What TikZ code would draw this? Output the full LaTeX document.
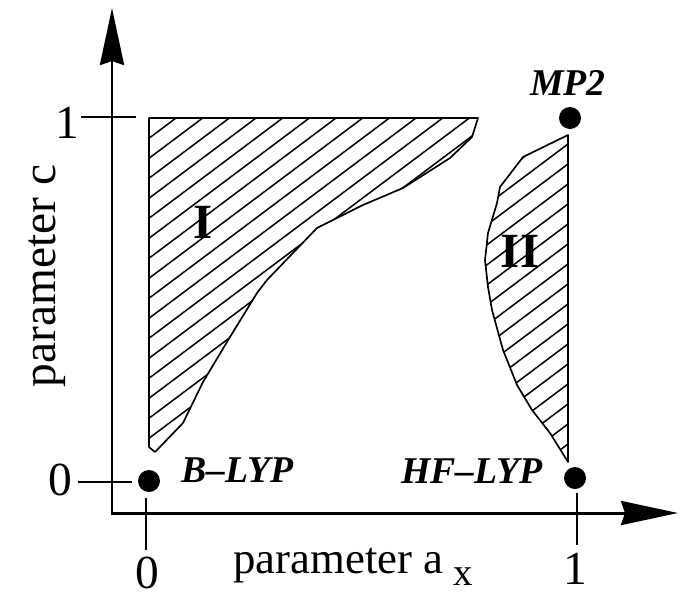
\documentclass[tikz,border=0pt]{standalone}
\usepackage{fontspec}
\setmainfont{Liberation Serif}
\usetikzlibrary{arrows.meta}

\begin{document}
\begin{tikzpicture}[x=0.02cm,y=-0.02cm,
  axisline/.style={line width=1.7pt,
    {Stealth[length=11.4mm,width=4.8mm,inset=0.8mm]}-{Stealth[length=11.4mm,width=4.8mm,inset=0.8mm]}},
  axtick/.style={line width=1.6pt},
  zone/.style={line width=0.95pt,line join=round},
  hatch/.style={line width=0.85pt},
  pointdot/.style={circle,fill,inner sep=0pt,minimum size=0.44cm},
  method/.style={font=\fontsize{21.5}{21.5}\selectfont\bfseries\itshape,inner sep=0pt},
  ticklab/.style={font=\fontsize{27}{27}\selectfont,inner sep=0pt},
  zonelab/.style={font=\fontsize{28}{28}\selectfont\bfseries,inner sep=0pt}]
  \useasboundingbox (0,0) rectangle (686,596);
  \def\zoneI{(149,118) -- (478,118) -- (472,137) -- (450,158) -- (403,188) -- (363,205)
    -- (317,228) -- (267,280) -- (257,293) -- (230,337) -- (203,382) -- (183,423)
    -- (155,452) -- (149,447) -- cycle}
  \def\zoneII{(568,135) -- (523,157) -- (500,187) -- (497,203) -- (488,233) -- (485,260)
    -- (488,287) -- (492,310) -- (503,350) -- (517,385) -- (532,410) -- (550,433)
    -- (568,462) -- cycle}
  \begin{scope}
    \clip \zoneI;
    \foreach \b in {190,210,...,910}
      \draw[hatch] (100,\b-75) -- (700,\b-525);
  \end{scope}
  \begin{scope}
    \clip \zoneII;
    \foreach \b in {190,210,...,910}
      \draw[hatch] (100,\b-75) -- (700,\b-525);
  \end{scope}
  \draw[zone] \zoneI;
  \draw[zone] \zoneII;
  \node[zonelab] (zIlab) at (203,222) {I};
  \node[zonelab] (zIIlab) at (520,251) {II};

  \coordinate (orig) at (112,513);
  \coordinate (ytip) at (112,8);
  \coordinate (xtip) at (678,513);
  \draw[axisline] (ytip) -- (orig) -- (xtip);

  \coordinate (c1a) at (81,117);  \coordinate (c1b) at (136,117);
  \coordinate (c0a) at (78,482);  \coordinate (c0b) at (132,482);
  \coordinate (a0a) at (146,498); \coordinate (a0b) at (146,550);
  \coordinate (a1a) at (577,493); \coordinate (a1b) at (577,545);
  \draw[axtick] (c1a) -- (c1b);
  \draw[axtick] (c0a) -- (c0b);
  \draw[axtick] (a0a) -- (a0b);
  \draw[axtick] (a1a) -- (a1b);
  \node[ticklab] (c1lab) at (67,123) {1};
  \node[ticklab] (c0lab) at (60,480) {0};
  \node[ticklab] (a0lab) at (147,573) {0};
  \node[ticklab] (a1lab) at (575,569) {1};

  \node[pointdot] (blyp) at (149,481) {};
  \node[pointdot] (hflyp) at (575,478) {};
  \node[pointdot] (mptwo) at (570,118) {};
  \node[method,anchor=base west] (blyplab) at (181,482) {B--LYP};
  \node[method,anchor=base east] (hflyplab) at (543,483) {HF--LYP};
  \node[method,anchor=base] (mptwolab) at (568,95) {MP2};

  \node[anchor=base west,inner sep=0pt,font=\fontsize{25.5}{26}\selectfont] (alab) at (233,573)
    {parameter a\hspace{0.2cm}\raisebox{-0.24cm}{\fontsize{22}{22}\selectfont x}};
  \node[rotate=90,anchor=base,inner sep=0pt,font=\fontsize{27}{27}\selectfont] (clab) at (55,276)
    {parameter c};
\end{tikzpicture}
\end{document}
